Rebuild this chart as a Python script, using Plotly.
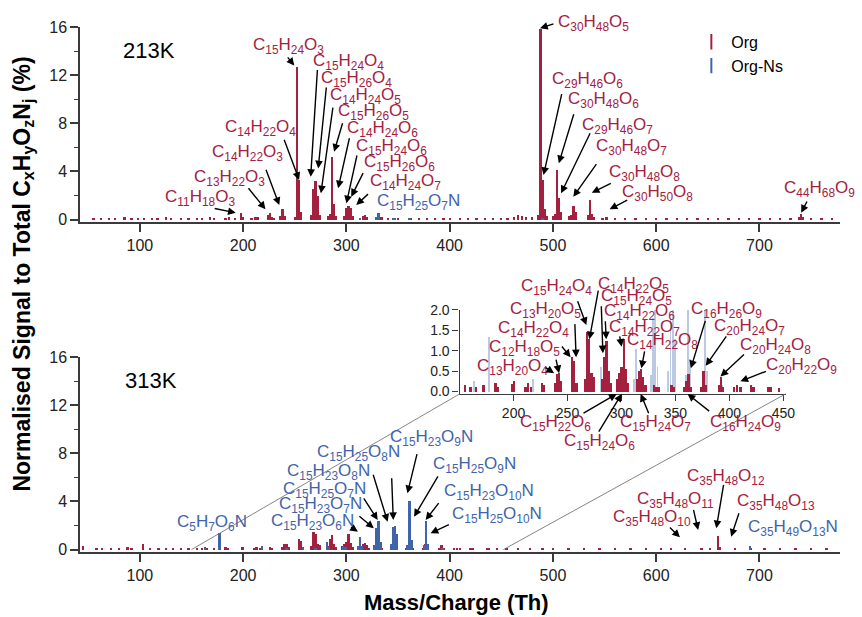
import re
import plotly.graph_objects as go

# ---------------- data ----------------
ORG = "#A3213F"
NS = "#3F64AB"
NS_LIGHT = "rgba(63,100,171,0.35)"

# 213 K, Org (m/z, %)
mz_213_org = [55, 62, 70, 76, 85, 92, 98, 104, 112, 117, 125, 130, 140, 147, 155, 160, 168, 172,
              183, 186, 192, 198, 200, 208, 212, 214, 224, 226, 228, 230, 236, 238, 240, 250, 252,
              254, 256, 266, 268, 270, 272, 274, 282, 284, 286, 288, 290, 298, 300, 302, 304, 306,
              316, 318, 320, 334, 340, 346, 350, 362, 370, 378, 386, 394, 400, 410, 418, 426, 434,
              442, 450, 456, 462, 466, 470, 474, 480, 486, 488, 490, 492, 494, 500, 502, 504, 506,
              508, 516, 518, 520, 522, 534, 536, 538, 540, 548, 552, 560, 570, 580, 590, 600, 610,
              620, 630, 640, 650, 660, 670, 680, 690, 700, 710, 720, 730, 738, 740, 742, 750, 760, 770]
int_213_org = [0.08, 0.1, 0.15, 0.12, 0.2, 0.1, 0.12, 0.1, 0.15, 0.1, 0.2, 0.12, 0.15, 0.1, 0.15, 0.12, 0.18, 0.1,
               0.15, 0.2, 0.12, 0.55, 0.2, 0.15, 0.25, 0.2, 0.35, 0.55, 0.2, 0.15, 0.3, 0.85, 0.3, 0.25, 12.7,
               3.3, 0.6, 0.4, 2.5, 3.2, 2.0, 0.4, 0.3, 0.5, 5.2, 1.3, 0.3, 0.3, 1.0, 1.1, 1.0, 0.3,
               0.3, 0.35, 0.2, 0.2, 0.15, 0.1, 0.15, 0.12, 0.1, 0.08, 0.1, 0.12, 0.1, 0.1, 0.12, 0.1, 0.1,
               0.12, 0.1, 0.15, 0.25, 0.35, 0.3, 0.2, 0.2, 0.4, 15.8, 3.3, 0.9, 0.3, 0.3, 0.5, 4.1, 1.8,
               0.6, 0.3, 0.4, 1.1, 0.6, 0.4, 1.65, 0.5, 0.2, 0.15, 0.25, 0.1, 0.12, 0.1, 0.12, 0.1, 0.12,
               0.1, 0.1, 0.1, 0.12, 0.1, 0.1, 0.1, 0.12, 0.1, 0.12, 0.1, 0.1, 0.2, 0.45, 0.2, 0.1, 0.12, 0.08]

# 213 K, Org-Ns
mz_213_ns = [313, 329, 331, 345, 347, 361, 490]
int_213_ns = [0.1, 0.2, 0.55, 0.15, 0.15, 0.12, 0.1]

# 313 K, Org
mz_313_org = [45, 58, 63, 72, 80, 88, 92, 103, 110, 118, 125, 132, 140, 147, 155, 160, 165, 172,
              183, 185, 199, 200, 211, 213, 216, 226, 228, 238, 240, 242, 244, 254, 256, 258, 266,
              268, 270, 272, 274, 282, 284, 286, 288, 290, 296, 298, 300, 302, 304, 306, 314, 316,
              318, 320, 322, 330, 332, 334, 346, 348, 358, 360, 362, 364, 374, 376, 378, 390, 392,
              394, 404, 407, 410, 420, 422, 436, 438, 446, 455, 466, 478, 490, 500, 515, 530, 545,
              560, 575, 590, 605, 614, 628, 644, 652, 660, 662, 676, 692, 705, 720, 735, 750, 765]
int_313_org = [0.3, 0.1, 0.08, 0.1, 0.12, 0.2, 0.15, 0.45, 0.1, 0.12, 0.1, 0.15, 0.12, 0.1, 0.15, 0.1, 0.12, 0.15,
               0.2, 0.1, 0.18, 0.25, 0.12, 0.2, 0.1, 0.22, 0.15, 0.2, 0.44, 0.45, 0.25, 0.85, 0.75, 0.2, 0.3,
               1.47, 1.3, 0.45, 0.35, 0.3, 0.85, 1.25, 0.5, 0.2, 0.3, 0.45, 0.6, 1.3, 0.55, 0.2, 0.3, 0.5,
               0.55, 0.35, 0.15, 0.15, 0.12, 0.12, 0.15, 0.12, 0.12, 0.25, 0.42, 0.12, 0.12, 0.5, 0.15, 0.15, 0.36,
               0.1, 0.12, 0.17, 0.1, 0.15, 0.1, 0.12, 0.1, 0.08, 0.08, 0.1, 0.08, 0.1, 0.08, 0.1, 0.08, 0.1,
               0.08, 0.1, 0.08, 0.1, 0.12, 0.12, 0.15, 0.1, 1.15, 0.2, 0.1, 0.08, 0.1, 0.08, 0.1, 0.08, 0.08]

# 313 K, Org-Ns
mz_313_ns = [163, 177, 218, 242, 258, 270, 281, 283, 297, 299, 311, 313, 315, 327, 329, 331, 333,
             343, 345, 347, 349, 359, 361, 363, 375, 377, 379, 393, 691]
int_313_ns = [0.25, 1.35, 0.3, 0.15, 0.2, 0.15, 0.6, 0.2, 0.3, 0.2, 0.3, 1.05, 0.3, 0.4, 1.8, 2.35, 0.6,
              0.5, 1.9, 2.0, 1.3, 0.4, 4.05, 0.8, 0.4, 2.4, 0.5, 0.15, 0.3]

x_ticks = [100, 200, 300, 400, 500, 600, 700]
y_ticks = [0, 4, 8, 12, 16]
inset_x_ticks = [200, 250, 300, 350, 400, 450]
inset_y_ticks = [0.0, 0.5, 1.0, 1.5, 2.0]

X_RANGE = [42, 778]
Y_RANGE = [-0.2, 16]
INSET_X_RANGE = [150, 452]
INSET_Y_RANGE = [-0.06, 2.0]

TOP_DOM = [0.6286, 1.0]
BOT_DOM = [0.0, 0.3714]
INSET_XDOM = [0.4994, 0.9283]
INSET_YDOM = [0.301, 0.461]

# labels: (formula, x, y, colour) in the panel's data units
top_labels = [
    ("C15H24O3", 208, 14.45, ORG), ("C15H24O4", 265.3, 13.1, ORG), ("C15H26O4", 273.4, 11.7, ORG),
    ("C14H24O5", 281.7, 10.3, ORG), ("C15H26O5", 290.3, 8.9, ORG), ("C14H24O6", 299, 7.5, ORG),
    ("C15H24O6", 307.3, 6.05, ORG), ("C15H26O6", 315, 4.68, ORG), ("C14H24O7", 320.7, 3.15, ORG),
    ("C15H25O7N", 327.7, 1.49, NS), ("C14H22O4", 180, 7.58, ORG), ("C14H22O3", 167.8, 5.5, ORG),
    ("C13H22O3", 150.6, 3.43, ORG), ("C11H18O3", 122.4, 1.77, ORG), ("C30H48O5", 503, 16.36, ORG),
    ("C29H46O6", 497.6, 11.6, ORG), ("C30H48O6", 512.7, 9.93, ORG), ("C29H46O7", 526.4, 7.77, ORG),
    ("C30H48O7", 540.2, 6.05, ORG), ("C30H48O8", 552.7, 3.9, ORG), ("C30H50O8", 565.4, 2.23, ORG),
    ("C44H68O9", 722.2, 2.52, ORG),
]
# arrows: (head x, head y, tail x, tail y)
top_arrows = [
    (249.5, 12.8, 242, 13.6), (265.4, 3.55, 272, 12.55), (272.7, 4.25, 280.7, 11.1),
    (275.3, 2.18, 287.1, 9.43), (288.1, 5.64, 296.7, 8.13), (292, 2.6, 303.2, 6.88),
    (300, 1.35, 310.5, 5.45), (304.7, 1.9, 316.9, 3.98), (309.5, 1.21, 322.4, 2.23),
    (254.2, 3.29, 239.2, 6.75), (235, 1.21, 221.6, 4.26), (221.6, 0.86, 204, 2.73),
    (192.8, 0.57, 171, 0.94), (487.5, 15.9, 502, 16.3), (490.9, 3.7, 508.8, 10.54),
    (505.7, 4.68, 520.6, 8.88), (507.9, 2.18, 536.7, 7.3), (519.7, 1.9, 543.1, 4.73),
    (537.6, 2.23, 557.5, 3.06), (554.9, 0.86, 573.4, 1.69), (740.4, 0.57, 746.8, 1.63),
]
bot_labels = [
    ("C5H7O6N", 133.6, 2.23, NS), ("C15H23O6N", 224.8, 2.32, NS), ("C15H23O7N", 232.7, 3.7, NS),
    ("C15H25O7N", 236.9, 4.95, NS), ("C15H23O8N", 240.8, 6.47, NS), ("C15H25O8N", 269.6, 8.0, NS),
    ("C15H23O9N", 340.6, 9.24, NS), ("C15H25O9N", 381.5, 7.03, NS), ("C15H23O10N", 392.7, 4.81, NS),
    ("C15H25O10N", 400.7, 2.87, NS), ("C35H48O12", 627.8, 6.0, ORG), ("C35H48O11", 579.8, 4.12, ORG),
    ("C35H48O10", 555.9, 2.6, ORG), ("C35H48O13", 676.5, 3.98, ORG), ("C35H49O13N", 687, 1.77, NS),
]
bot_arrows = [
    (311.1, 1.49, 303, 1.96), (326.5, 1.77, 311.1, 2.87), (330.3, 2.46, 315.9, 4.39),
    (339.9, 2.32, 325.5, 6.34), (345.4, 2.46, 343.8, 6.05), (359.1, 4.68, 368.7, 8.05),
    (365.5, 2.73, 389.5, 6.2), (376.7, 2.46, 390.5, 3.98), (381.5, 1.35, 400.7, 2.13),
    (658.2, 1.77, 665.5, 5.5), (640.6, 1.63, 635.8, 3.43), (623, 1.02, 611.8, 1.96),
    (672.6, 1.07, 680.6, 3.15),
]
inset_labels = [
    ("C15H24O4", 204.9, 2.57, ORG), ("C14H22O5", 276.7, 2.62, ORG), ("C15H24O5", 278.8, 2.33, ORG),
    ("C14H22O6", 281.9, 1.96, ORG), ("C14H22O7", 286.5, 1.55, ORG), ("C14H22O8", 303.3, 1.23, ORG),
    ("C13H20O5", 194.8, 2.0, ORG), ("C14H22O4", 184.1, 1.53, ORG), ("C12H18O5", 175.9, 1.06, ORG),
    ("C13H20O4", 164.3, 0.6, ORG), ("C16H26O9", 362.2, 2.0, ORG), ("C20H24O7", 383.6, 1.58, ORG),
    ("C20H24O8", 408.1, 1.12, ORG), ("C20H22O9", 432.5, 0.63, ORG), ("C15H22O6", 204, -0.76, ORG),
    ("C15H24O6", 245.2, -1.25, ORG), ("C15H24O7", 297.2, -0.76, ORG), ("C16H24O9", 380.6, -0.76, ORG),
]
inset_arrows = [
    (267.5, 1.63, 258.9, 2.25), (270.3, 1.28, 278.8, 2.51), (282.8, 0.94, 281.3, 2.13),
    (285.9, 1.28, 285, 1.76), (300.2, 1.1, 298.1, 1.39), (318.5, 0.57, 321.7, 1.02),
    (258, 0.84, 256.8, 1.69), (252.9, 0.84, 243.7, 1.14), (242.2, 0.45, 239.1, 0.82),
    (237.6, 0.45, 228.4, 0.61), (364.3, 0.57, 378.1, 1.77), (378.1, 0.63, 398.1, 1.39),
    (391.8, 0.37, 414.9, 0.94), (410.2, 0.25, 435.3, 0.51), (295.6, -0.06, 263.5, -0.55),
    (300.2, -0.06, 278.2, -1.02), (317.8, -0.06, 325.8, -0.57), (361.3, -0.06, 382.7, -0.51),
]
panel_titles = [("213K", 81.8, 14.03, "top"), ("313K", 83.4, 14.09, "bot")]

FONT = "Arial, Liberation Sans, sans-serif"
AX = "#3a3a3a"


def sub(f):
    return re.sub(r"(\d+)", r"<sub>\1</sub>", f)


def frac(v, rng, dom):
    return dom[0] + (v - rng[0]) / (rng[1] - rng[0]) * (dom[1] - dom[0])


fig = go.Figure()


def bars(x, y, color, xa, ya, w):
    fig.add_trace(go.Bar(x=x, y=y, width=w, marker=dict(color=color, line=dict(width=0)),
                         xaxis=xa, yaxis=ya, showlegend=False, hoverinfo="skip"))


bars(mz_213_org, int_213_org, ORG, "x", "y", 2.2)
bars(mz_213_ns, int_213_ns, NS, "x", "y", 2.2)
bars(mz_313_org, int_313_org, ORG, "x2", "y2", 2.2)
bars(mz_313_ns, int_313_ns, NS, "x2", "y2", 2.2)
bars(mz_313_ns, int_313_ns, NS_LIGHT, "x3", "y3", 1.8)
bars(mz_313_org, int_313_org, ORG, "x3", "y3", 1.8)

for name, col in (("Org", ORG), ("Org-Ns", NS)):
    fig.add_trace(go.Scatter(x=[None], y=[None], mode="markers", name=name,
                             marker=dict(symbol="line-ns", size=11, line=dict(width=2, color=col))))

ann = []

PANELS = {
    "top": (X_RANGE, [0, 1], Y_RANGE, TOP_DOM, "x", "y"),
    "bot": (X_RANGE, [0, 1], Y_RANGE, BOT_DOM, "x2", "y2"),
    "inset": (INSET_X_RANGE, INSET_XDOM, INSET_Y_RANGE, INSET_YDOM, "x3", "y3"),
}


def add_text(text, x, y, panel, color, size):
    xr, xd, yr, yd, _, _ = PANELS[panel]
    ann.append(dict(text=text, x=frac(x, xr, xd), y=frac(y, yr, yd), xref="paper", yref="paper",
                    xanchor="left", yanchor="middle", showarrow=False,
                    font=dict(size=size, color=color, family=FONT)))


def add_labels(lst, panel):
    for t, x, y, c in lst:
        add_text(sub(t), x, y, panel, c, 17)


def add_arrows(lst, panel):
    _, _, _, _, xa, ya = PANELS[panel]
    for hx, hy, tx, ty in lst:
        ann.append(dict(text="", x=hx, y=hy, xref=xa, yref=ya, ax=tx, ay=ty, axref=xa, ayref=ya,
                        showarrow=True, arrowhead=2, arrowsize=1.1, arrowwidth=1.4, arrowcolor="black"))


add_labels(top_labels, "top")
add_arrows(top_arrows, "top")
add_labels(bot_labels, "bot")
add_arrows(bot_arrows, "bot")
add_labels(inset_labels, "inset")
add_arrows(inset_arrows, "inset")
for t, x, y, p in panel_titles:
    add_text(t, x, y, p, "black", 22)

ann.append(dict(text="<b>Normalised Signal to Total C<sub>x</sub>H<sub>y</sub>O<sub>z</sub>N<sub>j</sub> (%)</b>",
                x=-0.0756, y=0.5295, xref="paper", yref="paper", textangle=-90, showarrow=False,
                xanchor="center", yanchor="middle", font=dict(size=23, color="black", family=FONT)))
ann.append(dict(text="<b>Mass/Charge (Th)</b>", x=0.496, y=-0.097, xref="paper", yref="paper",
                showarrow=False, xanchor="center", yanchor="middle",
                font=dict(size=22, color="black", family=FONT)))

shapes = []
for xv in INSET_X_RANGE:
    shapes.append(dict(type="line", xref="paper", yref="paper",
                       x0=frac(xv, X_RANGE, [0, 1]), y0=frac(0, Y_RANGE, BOT_DOM),
                       x1=frac(xv, INSET_X_RANGE, INSET_XDOM), y1=INSET_YDOM[0],
                       line=dict(color="#777777", width=0.9)))

axis_common = dict(showline=True, linecolor=AX, linewidth=1.5, ticks="outside", ticklen=8,
                   tickwidth=1.5, tickcolor=AX, showgrid=False, zeroline=False,
                   tickfont=dict(size=16, color="#222", family=FONT))
yminor = dict(ticks="outside", dtick=2, ticklen=4, tickwidth=1.2, tickcolor=AX)
inset_common = dict(showline=True, linecolor=AX, linewidth=1.3, ticks="outside", ticklen=6,
                    tickwidth=1.3, tickcolor=AX, showgrid=False, zeroline=False,
                    tickfont=dict(size=14, color="#222", family=FONT))

fig.update_layout(
    width=862, height=617, margin=dict(l=80, r=15, t=27, b=65),
    paper_bgcolor="white", plot_bgcolor="rgba(0,0,0,0)", barmode="overlay", bargap=0,
    font=dict(family=FONT),
    xaxis=dict(domain=[0, 1], anchor="y", range=X_RANGE, tickvals=x_ticks, **axis_common),
    yaxis=dict(domain=TOP_DOM, anchor="x", range=Y_RANGE, tickvals=y_ticks, minor=yminor, **axis_common),
    xaxis2=dict(domain=[0, 1], anchor="y2", range=X_RANGE, tickvals=x_ticks, **axis_common),
    yaxis2=dict(domain=BOT_DOM, anchor="x2", range=Y_RANGE, tickvals=y_ticks, minor=yminor, **axis_common),
    xaxis3=dict(domain=INSET_XDOM, anchor="y3", range=INSET_X_RANGE, tickvals=inset_x_ticks, **inset_common),
    yaxis3=dict(domain=INSET_YDOM, anchor="x3", range=INSET_Y_RANGE, tickvals=inset_y_ticks,
                tickformat=".1f", **inset_common),
    legend=dict(x=0.8044, y=1.004, xanchor="left", yanchor="top", bgcolor="rgba(0,0,0,0)",
                font=dict(size=16, color="black", family=FONT), tracegroupgap=0),
    annotations=ann, shapes=shapes,
)

fig.write_html("out.html", config={"displayModeBar": False},
               post_script="document.body.style.margin='0';")
